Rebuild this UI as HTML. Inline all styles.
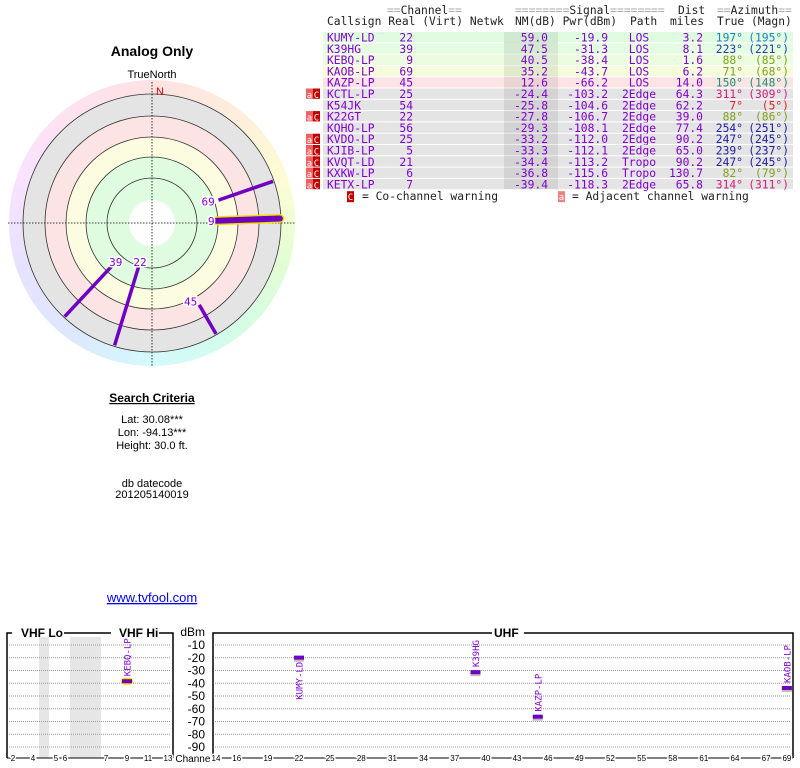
<!DOCTYPE html>
<html><head><meta charset="utf-8">
<style>
body{margin:0;background:#fff;width:800px;height:768px;overflow:hidden;position:relative;font-family:"Liberation Sans",sans-serif}
#hue{position:absolute;left:9px;top:80px;width:286px;height:286px;border-radius:50%;
background:conic-gradient(from 0deg,hsl(0,90%,94%),hsl(30,90%,93%),hsl(60,90%,91%),hsl(100,90%,91%),hsl(150,90%,91%),hsl(185,90%,91%),hsl(220,90%,93%),hsl(250,90%,94%),hsl(290,90%,94%),hsl(330,90%,94%),hsl(360,90%,94%))}
svg{position:absolute;left:0;top:0}
.mono{font-family:"DejaVu Sans Mono","Liberation Mono",monospace}
</style></head><body>
<div id="hue"></div>
<svg id="s" width="800" height="768">
<text x="152" y="56" text-anchor="middle" font-weight="bold" font-size="14">Analog Only</text>
<text x="152" y="78" text-anchor="middle" font-size="11">TrueNorth</text>
<g id="polar"></g>
<text x="152" y="402" text-anchor="middle" font-weight="bold" font-size="12" text-decoration="underline">Search Criteria</text>
<g font-size="11" text-anchor="middle">
<text x="152" y="423">Lat: 30.08***</text>
<text x="152" y="436">Lon: -94.13***</text>
<text x="152" y="449">Height: 30.0 ft.</text>
<text x="152" y="487">db datecode</text>
<text x="152" y="498">201205140019</text>
</g>
<text x="152" y="602" text-anchor="middle" font-size="13" fill="#0000ee" text-decoration="underline">www.tvfool.com</text>
<g id="table" class="mono" font-size="11.3"></g>
<g id="spec"></g>
</svg>
<script>
// ---- data ----
const callsigns=["KUMY-LD","K39HG","KEBQ-LP","KAOB-LP","KAZP-LP","KCTL-LP","K54JK","K22GT","KQHO-LP","KVDO-LP","KJIB-LP","KVQT-LD","KXKW-LP","KETX-LP"];
const channels=[22,39,9,69,45,25,54,22,56,25,5,21,6,7];
const nmDb=[59.0,47.5,40.5,35.2,12.6,-24.4,-25.8,-27.8,-29.3,-33.2,-33.3,-34.4,-36.8,-39.4];
const pwrDbm=[-19.9,-31.3,-38.4,-43.7,-66.2,-103.2,-104.6,-106.7,-108.1,-112.0,-112.1,-113.2,-115.6,-118.3];
const paths=["LOS","LOS","LOS","LOS","LOS","2Edge","2Edge","2Edge","2Edge","2Edge","2Edge","Tropo","Tropo","2Edge"];
const distMiles=[3.2,8.1,1.6,6.2,14.0,64.3,62.2,39.0,77.4,90.2,65.0,90.2,130.7,65.8];
const azTrue=[197,223,88,71,150,311,7,88,254,247,239,247,82,314];
const azMagn=[195,221,85,68,148,309,5,86,251,245,237,245,79,311];
const warn=[0,0,0,0,0,1,0,1,0,1,1,1,1,1];
const dbmTicks=[-10,-20,-30,-40,-50,-60,-70,-80,-90];
const vhfTickLabels=["2","4","5","6","7","9","11","13"];
const uhfTickLabels=[14,16,19,22,25,28,31,34,37,40,43,46,49,52,55,58,61,64,67,69];

const NS="http://www.w3.org/2000/svg";
function mk(tag,attrs,parent,txt){const e=document.createElementNS(NS,tag);for(const k in attrs)e.setAttribute(k,attrs[k]);if(txt!==undefined)e.textContent=txt;parent.appendChild(e);return e;}
function azColor(a){if(a<30||a>355)return"#e02020";if(a<60)return"#d06000";if(a<100)return"#80a020";if(a<170)return"#209070";if(a<210)return"#2080c0";if(a<230)return"#2040b0";if(a<270)return"#2020a0";if(a<300)return"#6020c0";return"#d02080";}

// ---- polar ----
const P=document.getElementById('polar');const cx=152,cy=223;
[[129,"#e4e4e4"],[107,"#fde4e4"],[86,"#fcfce0"],[66,"#e0fce0"],[23,"#ffffff"]].forEach(([r,f])=>{mk('circle',{cx,cy,r,fill:f},P);});
[129,107,86,66,45].forEach(r=>{const c=mk('circle',{cx,cy,r,fill:"none",stroke:"#333","stroke-width":0.8},P);});
mk('line',{x1:8,y1:cy,x2:296,y2:cy,stroke:"#000","stroke-dasharray":"1.5,1.5","stroke-width":0.8},P);
mk('line',{x1:cx,y1:82,x2:cx,y2:367,stroke:"#000","stroke-dasharray":"1.5,1.5","stroke-width":0.8},P);
mk('text',{x:160,y:95,fill:"#e00000","font-size":11,"text-anchor":"middle"},P,"N");
function rOf(nm){return 108-nm*1.07;}
for(let i=0;i<callsigns.length;i++){
  if(nmDb[i]<0)continue;
  const a=azTrue[i]*Math.PI/180,r0=rOf(nmDb[i]),r1=128;
  const x0=cx+r0*Math.sin(a),y0=cy-r0*Math.cos(a),x1=cx+r1*Math.sin(a),y1=cy-r1*Math.cos(a);
  const g=mk('g',{},P);
  
  
  if(channels[i]<14){mk('line',{x1:x0,y1:y0,x2:x1,y2:y1,stroke:"#f0e000","stroke-width":9,"stroke-linecap":"round"},g);mk('line',{x1:x0,y1:y0,x2:x1,y2:y1,stroke:"#7000c0","stroke-width":6,"stroke-linecap":"round"},g);}
  else mk('line',{x1:x0,y1:y0,x2:x1,y2:y1,stroke:"#7000c0","stroke-width":3.5},g);
  const lr=r0+(channels[i]<14?-2:-4);
  const lx=cx+lr*Math.sin(a),ly=cy-lr*Math.cos(a);
  mk('text',{x:lx,y:ly+4,"font-size":11,fill:"#8000d0","text-anchor":Math.sin(a)>0.3?"end":"middle",class:"mono",stroke:"#fff","stroke-width":3,"paint-order":"stroke"},g,String(channels[i]));
}

// ---- table ----
const T=document.getElementById('table');
const top0=32,rh=11.3;
const hdr=[[387,14,"==Channel=="],[515,14,"========Signal========"],[678,14,"Dist"],[717,14,"==Azimuth=="],
[327,25,"Callsign Real (Virt) Netwk"],[515,25,"NM(dB) Pwr(dBm)"],[630,25,"Path"],[670,25,"miles"],[717,25,"True (Magn)"]];
hdr.forEach(([x,y,s])=>{const t=mk('text',{x,y,fill:"#222","xml:space":"preserve"},T);
  s.split(/(=+)/).forEach(p=>{if(!p)return;mk('tspan',{fill:p[0]=="="?"#aaa":"#222"},t,p);});});
const bg=["#e0fce0","#e4fce0","#ecfce0","#f4fcdc","#fce4e4"];
for(let i=0;i<callsigns.length;i++){
  const y=top0+i*rh;
  const row=mk('g',{},T);
  
  
  mk('rect',{x:323,y:y,width:470,height:rh-1,fill:bg[i]||"#e4e4e4"},row);
  mk('rect',{x:504,y:y-(i?1:0),width:54,height:rh,fill:"rgba(0,0,0,0.07)"},row);
  const ty=y+9.5;const pc="#8000d0";
  mk('text',{x:327,y:ty,fill:pc},row,callsigns[i]);
  mk('text',{x:413,y:ty,fill:pc,"text-anchor":"end"},row,String(channels[i]));
  mk('text',{x:548,y:ty,fill:pc,"text-anchor":"end"},row,nmDb[i].toFixed(1));
  mk('text',{x:608,y:ty,fill:pc,"text-anchor":"end"},row,pwrDbm[i].toFixed(1));
  mk('text',{x:639,y:ty,fill:pc,"text-anchor":"middle"},row,paths[i]);
  mk('text',{x:703,y:ty,fill:pc,"text-anchor":"end"},row,distMiles[i].toFixed(1));
  const c=azColor(azTrue[i]);
  mk('text',{x:743,y:ty,fill:c,"text-anchor":"end"},row,azTrue[i]+"°");
  mk('text',{x:789,y:ty,fill:c,"text-anchor":"end"},row,"("+azMagn[i]+"°)");
  if(warn[i]){mk('rect',{x:306,y:y,width:7,height:rh-1,fill:"#f06060"},row);mk('rect',{x:313,y:y,width:7,height:rh-1,fill:"#c00000"},row);
    mk('text',{x:309.5,y:ty,fill:"#fff","text-anchor":"middle","font-size":9},row,"a");mk('text',{x:316.5,y:ty,fill:"#fff","text-anchor":"middle","font-size":9},row,"C");}
}
const ly=top0+14*rh+10;
mk('rect',{x:347,y:ly-9,width:7,height:11,fill:"#c00000"},T);mk('text',{x:350.5,y:ly,fill:"#fff","text-anchor":"middle","font-size":9},T,"C");
mk('text',{x:362,y:ly,fill:"#222"},T,"= Co-channel warning");
mk('rect',{x:558,y:ly-9,width:7,height:11,fill:"#f08080"},T);mk('text',{x:561.5,y:ly,fill:"#fff","text-anchor":"middle","font-size":9},T,"a");
mk('text',{x:572,y:ly,fill:"#222"},T,"= Adjacent channel warning");

// ---- spectrum ----
const S=document.getElementById('spec');
function yDbm(v){return 645+(-v-10)*1.275;}
const vhfX={2:13,3:23,4:33,5:56,6:65,7:106,8:116.5,9:127,10:137.5,11:148,12:158,13:168};
function xUhf(ch){return 216+(ch-14)*10.38;}
mk('rect',{x:39,y:637,width:10,height:121,fill:"#e6e6e6"},S);
mk('rect',{x:70,y:637,width:31,height:121,fill:"#e6e6e6"},S);
dbmTicks.forEach(v=>{const y=yDbm(v);
  mk('line',{x1:9,y1:y,x2:171,y2:y,stroke:"#999","stroke-dasharray":"1,1"},S);
  mk('line',{x1:215,y1:y,x2:791,y2:y,stroke:"#999","stroke-dasharray":"1,1"},S);
  mk('text',{x:205,y:y+4,"text-anchor":"end","font-size":12},S,String(v));});
mk('text',{x:205,y:636,"text-anchor":"end","font-size":12},S,"dBm");
mk('text',{x:194,y:762,"text-anchor":"middle","font-size":10},S,"Channel");
mk('path',{d:"M7,758 V633 H12 M64,633 H111 M159,633 H173 V758",fill:"none",stroke:"#000","stroke-width":1.5},S);
mk('path',{d:"M213,758 V633 H492 M524,633 H793 V758",fill:"none",stroke:"#000","stroke-width":1.5},S);
mk('line',{x1:7,y1:758,x2:173,y2:758,stroke:"#000","stroke-width":1},S);
mk('line',{x1:213,y1:758,x2:793,y2:758,stroke:"#000","stroke-width":1},S);
mk('text',{x:21,y:637,"font-weight":"bold","font-size":12},S,"VHF Lo");
mk('text',{x:119,y:637,"font-weight":"bold","font-size":12},S,"VHF Hi");
mk('text',{x:494,y:637,"font-weight":"bold","font-size":12},S,"UHF");
vhfTickLabels.forEach(l=>{mk('text',{x:vhfX[l],y:761,"text-anchor":"middle","font-size":8,stroke:"#fff","stroke-width":3,"paint-order":"stroke"},S,l);});
uhfTickLabels.forEach(l=>{mk('text',{x:xUhf(l),y:761,"text-anchor":"middle","font-size":8,stroke:"#fff","stroke-width":3,"paint-order":"stroke"},S,String(l));});
for(let i=0;i<callsigns.length;i++){
  if(pwrDbm[i]<-90)continue;
  const ch=channels[i];const x=ch<14?vhfX[ch]:xUhf(ch);const y=yDbm(pwrDbm[i]);
  const g=mk('g',{},S);
  
  
  if(ch<14)mk('rect',{x:x-6,y:y-3.5,width:12,height:7,rx:3,fill:"#f0e000"},g);
  else mk('rect',{x:x-5,y:y-1,width:10,height:5,fill:"#bbb"},g);
  mk('rect',{x:x-5,y:y-2,width:10,height:4,fill:"#7000c0"},g);
  const len=callsigns[i].length*5.3;
  const above=(y-4-len)>636;
  const ty=above?y-5:y+5+len;
  mk('text',{x:x+3.5,y:ty,transform:`rotate(-90 ${x+3.5} ${ty})`,"font-size":9,fill:"#8000d0",class:"mono"},g,callsigns[i]);
}
</script>
</body></html>
